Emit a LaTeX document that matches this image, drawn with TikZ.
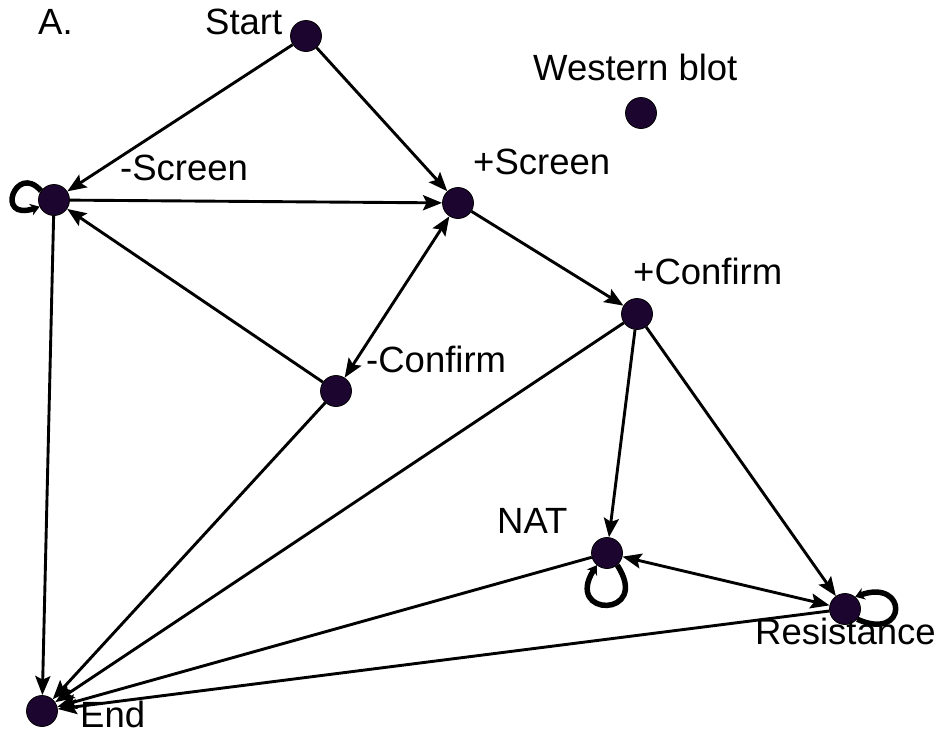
\documentclass[tikz,border=0pt]{standalone}
\usepackage{fontspec}
\setmainfont{Liberation Sans}
\usetikzlibrary{arrows.meta}
\definecolor{statefill}{RGB}{28,6,48}
\begin{document}
\begin{tikzpicture}[x=1pt,y=-1pt,
  state/.style={circle,draw=black,line width=0.8pt,fill=statefill,minimum size=31pt,inner sep=0pt},
  lbl/.style={anchor=base west,inner sep=0pt,font=\fontsize{36.5}{40}\selectfont},
  tip/.style={Stealth[length=19pt,width=15pt,inset=3.5pt]},
  edge/.style={line width=2.9pt,-{Stealth[length=19pt,width=15pt,inset=3.5pt]}},
  twoway/.style={line width=2.9pt,{Stealth[length=19pt,width=15pt,inset=3.5pt]}-{Stealth[length=19pt,width=15pt,inset=3.5pt]}},
  selfloop/.style={line width=5.5pt,-{Stealth[length=9pt,width=12pt]}}]
\useasboundingbox (0,0) rectangle (951,734);

% states
\node[state] (start)  at (306,36)  {};
\node[state] (wb)     at (641,113) {};
\node[state] (mscr)   at (54,200)  {};
\node[state] (pscr)   at (458,203) {};
\node[state] (pconf)  at (637,314) {};
\node[state] (mconf)  at (336,391) {};
\node[state] (nat)    at (607,553) {};
\node[state] (res)    at (845,609) {};
\node[state] (end)    at (42,711)  {};

% labels
\node[lbl] (tA)     at (38,34)   {A.};
\node[lbl] (tstart) at (205,34)  {Start};
\node[lbl] (twb)    at (533,80)  {Western blot};
\node[lbl] (tmscr)  at (120,180) {-Screen};
\node[lbl] (tpscr)  at (473,174) {+Screen};
\node[lbl] (tpconf) at (633,284) {+Confirm};
\node[lbl] (tmconf) at (366,372) {-Confirm};
\node[lbl] (tnat)   at (497,533) {NAT};
\node[lbl] (tres)   at (755,644) {Resistance};
\node[lbl] (tend)   at (80,727)  {End};

% transitions
\draw[edge] (start) -- (mscr);
\draw[edge] (start) -- (pscr);
\draw[edge] (mscr) -- (pscr);
\draw[edge] (mconf) -- (mscr);
\draw[twoway] (mconf) -- (pscr);
\draw[edge] (pscr) -- (pconf);
\draw[edge] (mscr) -- (end);
\draw[edge] (mconf) -- (end);
\draw[edge] (pconf) -- (end);
\draw[edge] (pconf) -- (nat);
\draw[edge] (pconf) -- (res);
\draw[edge] (nat) -- (end);
\draw[edge] (res) -- (end);
\draw[twoway] (nat) -- (res);

% self transitions
\draw[selfloop] (mscr.145) .. controls (16,162) and (-6,222) .. (mscr.205);
\draw[selfloop] (nat.-50) .. controls (652,618) and (563,618) .. (nat.-130);
\draw[selfloop] (res.-40) .. controls (908,642) and (908,578) .. (res.50);
\end{tikzpicture}
\end{document}
